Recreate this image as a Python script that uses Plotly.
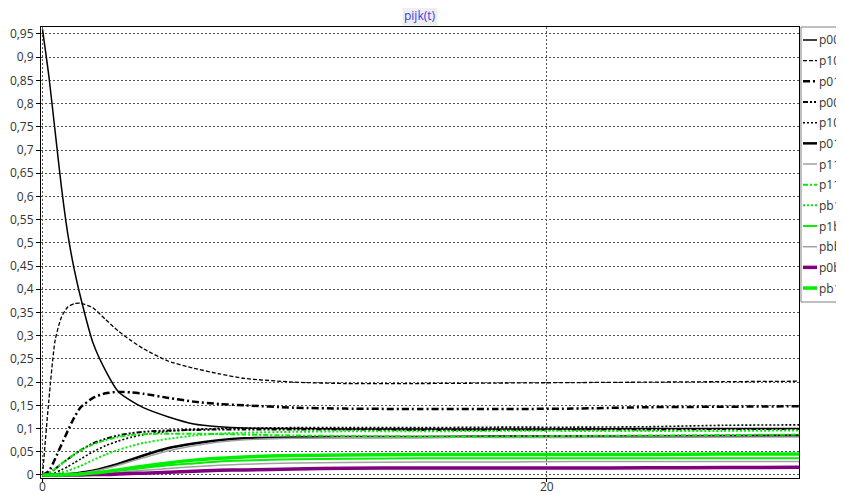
import plotly.graph_objects as go

# ---- data ----
T = [0, 0.25, 0.5, 0.75, 1, 1.25, 1.5, 2, 2.5, 3, 3.5, 4, 5, 6, 7, 8, 10, 12, 15, 18, 21, 24, 27, 30]

names = ["p00", "p10", "p01", "p00", "p10", "p01", "p11", "p11", "pb1", "p1b", "pbb", "p0b", "pb1"]

p00_a = [0.96, 0.86, 0.74, 0.62, 0.52, 0.445, 0.385, 0.285, 0.225, 0.18, 0.16, 0.145, 0.125, 0.11, 0.104, 0.101, 0.1, 0.099, 0.099, 0.099, 0.099, 0.1, 0.1, 0.1]
p10_a = [0, 0.16, 0.29, 0.34, 0.362, 0.369, 0.37, 0.36, 0.335, 0.31, 0.29, 0.272, 0.245, 0.23, 0.218, 0.208, 0.2, 0.197, 0.197, 0.198, 0.199, 0.2, 0.201, 0.202]
p01_a = [0, 0.008, 0.035, 0.065, 0.095, 0.123, 0.145, 0.166, 0.176, 0.179, 0.178, 0.175, 0.166, 0.158, 0.153, 0.15, 0.145, 0.143, 0.142, 0.142, 0.143, 0.146, 0.147, 0.148]
p00_b = [0, 0.004, 0.013, 0.024, 0.034, 0.044, 0.053, 0.068, 0.078, 0.085, 0.09, 0.093, 0.096, 0.097, 0.098, 0.098, 0.098, 0.098, 0.097, 0.097, 0.098, 0.098, 0.099, 0.099]
p10_b = [0, 0.001, 0.005, 0.011, 0.018, 0.026, 0.034, 0.05, 0.063, 0.073, 0.081, 0.087, 0.094, 0.098, 0.1, 0.101, 0.102, 0.102, 0.102, 0.103, 0.103, 0.104, 0.107, 0.108]
p01_b = [0, 0, 0, 0.001, 0.002, 0.003, 0.005, 0.009, 0.016, 0.024, 0.033, 0.042, 0.058, 0.068, 0.075, 0.079, 0.081, 0.082, 0.082, 0.083, 0.083, 0.083, 0.084, 0.085]
p11_a = [0, 0, 0, 0.001, 0.002, 0.003, 0.004, 0.008, 0.014, 0.021, 0.029, 0.037, 0.052, 0.063, 0.071, 0.076, 0.079, 0.08, 0.081, 0.081, 0.081, 0.082, 0.082, 0.082]
p11_b = [0, 0.004, 0.013, 0.024, 0.034, 0.044, 0.053, 0.066, 0.075, 0.082, 0.086, 0.088, 0.089, 0.089, 0.088, 0.087, 0.085, 0.084, 0.083, 0.083, 0.084, 0.085, 0.086, 0.087]
pb1_a = [0, 0, 0.002, 0.005, 0.009, 0.014, 0.019, 0.032, 0.044, 0.054, 0.062, 0.069, 0.078, 0.085, 0.089, 0.091, 0.093, 0.094, 0.094, 0.095, 0.095, 0.095, 0.095, 0.096]
p1b_a = [0, 0, 0, 0, 0.001, 0.001, 0.002, 0.003, 0.006, 0.009, 0.012, 0.015, 0.021, 0.025, 0.029, 0.031, 0.034, 0.035, 0.036, 0.036, 0.036, 0.036, 0.036, 0.036]
pbb_a = [0, 0, 0, 0, 0, 0.001, 0.001, 0.002, 0.004, 0.006, 0.008, 0.01, 0.014, 0.018, 0.021, 0.023, 0.026, 0.027, 0.028, 0.028, 0.029, 0.029, 0.029, 0.029]
p0b_a = [0, 0, 0, 0, 0, 0, 0, 0.001, 0.001, 0.002, 0.003, 0.004, 0.006, 0.008, 0.01, 0.011, 0.013, 0.0145, 0.015, 0.015, 0.015, 0.0155, 0.016, 0.0165]
pb1_b = [0, 0, 0, 0, 0.001, 0.001, 0.002, 0.004, 0.007, 0.011, 0.015, 0.019, 0.026, 0.032, 0.036, 0.039, 0.042, 0.043, 0.044, 0.044, 0.044, 0.044, 0.045, 0.045]

series = [p00_a, p10_a, p01_a, p00_b, p10_b, p01_b, p11_a, p11_b, pb1_a, p1b_a, pbb_a, p0b_a, pb1_b]

# ---- styles ----
GREEN = "#00ee00"
colors = ["#000000", "#000000", "#000000", "#000000", "#000000", "#000000", "#a0a0a0",
          GREEN, GREEN, GREEN, "#a0a0a0", "#800080", GREEN]
widths = [1.5, 1.3, 2.5, 2, 1.6, 2.5, 1.5, 2, 2, 2, 1.5, 3.5, 3.5]
dashes = ["solid", "4px,2px", "7px,3px,2px,3px", "5px,2px,2px,2px,2px,2px", "2px,2px", "solid",
          "solid", "5px,2px,2px,2px", "2px,2px", "solid", "solid", "solid", "solid"]

fig = go.Figure()
for nm, ys, c, w, d in zip(names, series, colors, widths, dashes):
    fig.add_trace(go.Scatter(x=T, y=ys, mode="lines", name=nm, showlegend=False,
                             line=dict(color=c, width=w, dash=d, shape="spline", smoothing=0.6)))

# page offset of the figure div (default body margin)
OFF = 8
W, H = 844 - OFF, 495 - OFF
# plot area in page pixels: left 41, right 799, top 27, bottom 478
L, TOP = 41 - OFF, 27 - OFF
R = W - (799 - OFF)
B = H - (478 - OFF)
PW, PH = W - L - R, H - TOP - B

def px(x):  # page pixel -> paper
    return (x - OFF - L) / PW
def py(y):
    return (H - B - (y - OFF)) / PH

# custom legend box (as in the reference, clipped at right edge)
shapes = [dict(type="rect", xref="paper", yref="paper", x0=px(801), x1=px(870), y0=py(302), y1=py(27),
               line=dict(color="#808080", width=1), fillcolor="white", layer="above")]
annotations = []
for i, (nm, c, w, d) in enumerate(zip(names, colors, widths, dashes)):
    yc = 40 + i * 20.67
    shapes.append(dict(type="line", xref="paper", yref="paper", x0=px(803), x1=px(817), y0=py(yc), y1=py(yc),
                       line=dict(color=c, width=w, dash=d), layer="above"))
    annotations.append(dict(text=nm, xref="paper", yref="paper", x=px(818), y=py(yc), xanchor="left",
                            yanchor="middle", showarrow=False, borderpad=0,
                            font=dict(size=12, color="#333333")))

annotations.append(dict(text="pijk(t)", xref="paper", yref="paper", x=px(420), y=py(16), xanchor="center",
                        yanchor="middle", showarrow=False, bgcolor="#eeeeee", borderpad=1,
                        font=dict(size=12, color="#3a3af0")))

fig.update_layout(
    width=W, height=H,
    margin=dict(l=L, r=R, t=TOP, b=B, autoexpand=False),
    paper_bgcolor="white", plot_bgcolor="white",
    font=dict(family="Open Sans", size=12, color="#333333"),
    separators=", ",
    showlegend=False,
    shapes=shapes, annotations=annotations,
)
fig.update_xaxes(range=[-0.06, 30], dtick=20, tick0=0, showgrid=True, gridcolor="#555555", griddash="2px,2px",
                 gridwidth=1, zeroline=False, showline=True, linecolor="#000000", linewidth=1, mirror=True,
                 ticks="outside", ticklen=3, tickcolor="#000000", ticklabelstandoff=-5,
                 tickfont=dict(size=12, color="#333333"))
fig.update_yaxes(range=[-0.0065, 0.965], dtick=0.05, tick0=0, showgrid=True, gridcolor="#555555", griddash="2px,2px",
                 gridwidth=1, zeroline=False, showline=True, linecolor="#000000", linewidth=1, mirror=True,
                 ticks="outside", ticklen=4, tickcolor="#000000", tickfont=dict(size=12, color="#333333"))

fig.write_html("out.html")
